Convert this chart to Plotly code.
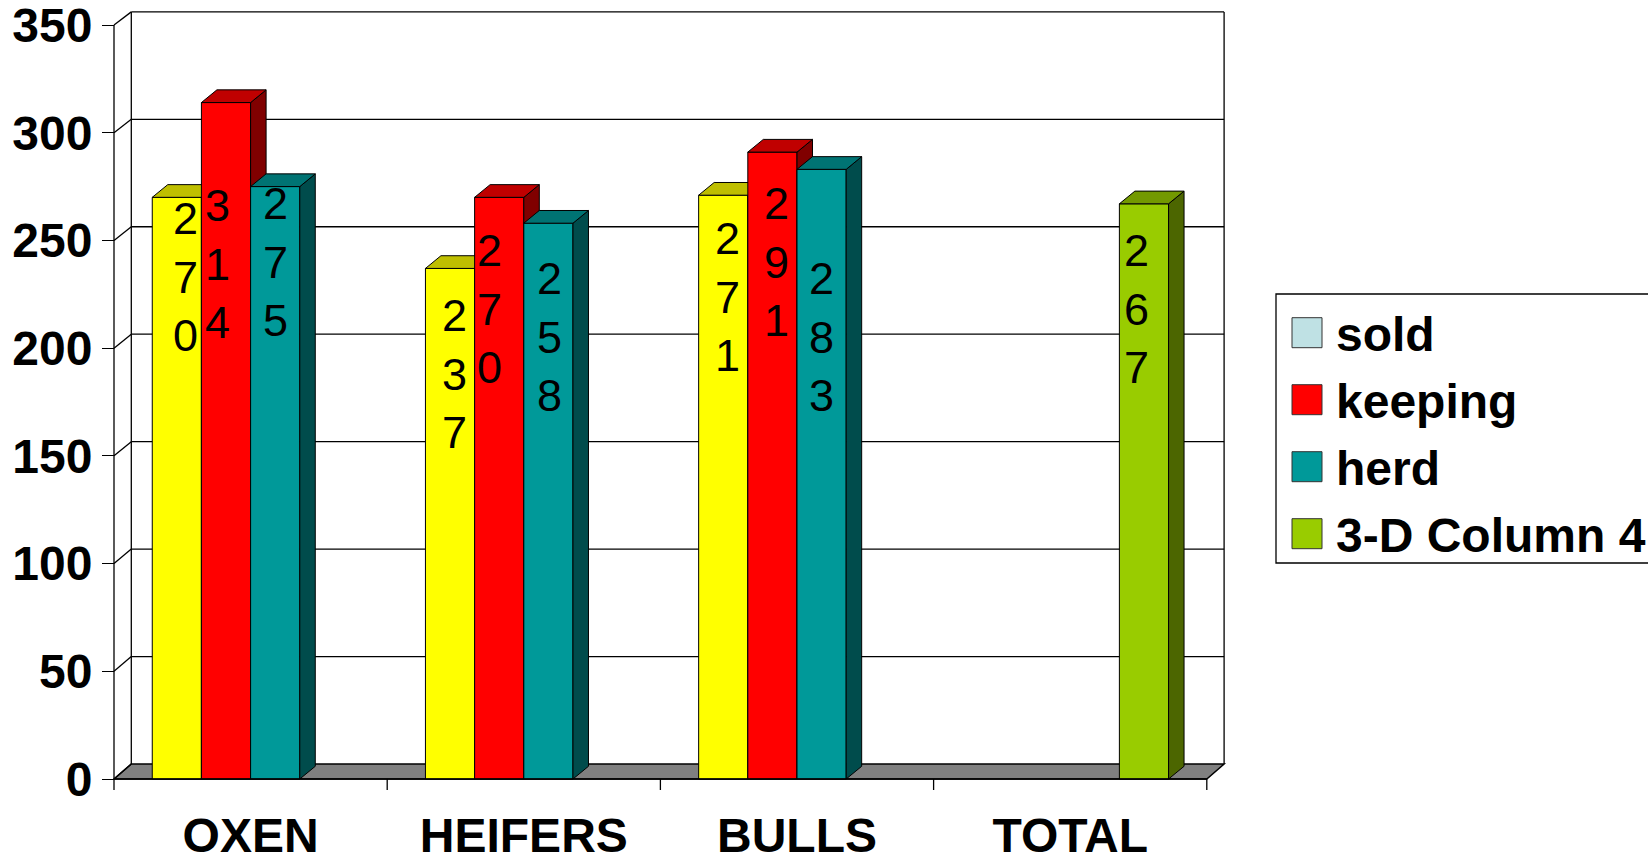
import plotly.graph_objects as go

# ---------------- data ----------------
categories = ["OXEN", "HEIFERS", "BULLS", "TOTAL"]
series_names = ["sold", "keeping", "herd", "3-D Column 4"]
sold = [270, 237, 271, None]
keeping = [314, 270, 291, None]
herd = [275, 258, 283, None]
column_4 = [None, None, None, 267]
y_tick_values = [0, 50, 100, 150, 200, 250, 300, 350]

series_values = [sold, keeping, herd, column_4]

# ---------------- styles ----------------
FONT = "Liberation Sans, Arial, sans-serif"
BIG = 48
FRONT_COLORS = ["#FFFF00", "#FF0000", "#009999", "#99CC00"]
TOP_COLORS = ["#BFBF00", "#C00000", "#007373", "#739900"]
SIDE_COLORS = ["#808000", "#800000", "#004C4C", "#4C6600"]
LEGEND_COLORS = ["#BFE1E4", "#FF0000", "#009999", "#99CC00"]
FLOOR_COLOR = "#808080"

# label placement (axis units for vertical centre, pixel nudge horizontally)
LABEL_CENTER = [
    [232.9, 187.9, 223.6, None],
    [238.9, 218.0, 239.8, None],
    [239.8, 205.0, 205.0, None],
    [None, None, None, 218.0],
]
LABEL_XSHIFT = [
    [9, 4, 4, 0],
    [-9, -10, 4, 0],
    [0, 1, 0, 0],
    [0, 0, 0, -7],
]

# ---------------- geometry ----------------
FIG_W, FIG_H = 1648, 855
PA_LEFT, PA_RIGHT, PA_TOP, PA_BOTTOM = 60, 1240, 6, 797   # plot-area box in px
PLOT_W = PA_RIGHT - PA_LEFT
PLOT_H = PA_BOTTOM - PA_TOP
AXIS_X_PX = 114          # front value axis
AXIS_Y_PX = 779          # front category axis (value 0)
PX_PER_CAT = 273.2
PX_PER_UNIT = 754 / 350

X_RANGE = [-0.5 - (AXIS_X_PX - PA_LEFT) / PX_PER_CAT,
           -0.5 + (PA_RIGHT - AXIS_X_PX) / PX_PER_CAT]
Y_RANGE = [-(PA_BOTTOM - AXIS_Y_PX) / PX_PER_UNIT,
           (AXIS_Y_PX - PA_TOP) / PX_PER_UNIT]

BAR_W = 0.18
GROUP_START = -0.36
DEPTH_DX = 15.5 / PX_PER_CAT
DEPTH_DY = 12.7 / PX_PER_UNIT
WALL_DX = 17.3 / PX_PER_CAT
WALL_DY0 = 15 / PX_PER_UNIT
WALL_SCALE = 0.9975
TICK_DOWN = 11 / PX_PER_UNIT

n_cat = len(categories)
x_first = -0.5
x_last = n_cat - 0.5


def back(v):
    return v * WALL_SCALE + WALL_DY0


def px_to_paper_x(px):
    return (px - PA_LEFT) / PLOT_W


def px_to_paper_y(py):
    return (PA_BOTTOM - py) / PLOT_H


fig = go.Figure()

# ---------------- bars (one overlaid subplot per series, for correct occlusion) ----------------
for k, vals in enumerate(series_values):
    xa = "x" if k == 0 else f"x{k + 1}"
    ya = "y" if k == 0 else f"y{k + 1}"
    offset = GROUP_START + BAR_W * k
    fig.add_trace(go.Bar(
        x=list(range(n_cat)), y=vals, name=series_names[k],
        offset=offset, width=BAR_W,
        marker=dict(color=FRONT_COLORS[k], line=dict(color="black", width=1)),
        xaxis=xa, yaxis=ya, showlegend=False, hoverinfo="skip",
    ))
    for i, v in enumerate(vals):
        if v is None:
            continue
        x0 = i + offset
        x1 = x0 + BAR_W
        # side face
        fig.add_trace(go.Scatter(
            x=[x1, x1 + DEPTH_DX, x1 + DEPTH_DX, x1, x1],
            y=[0, DEPTH_DY, v + DEPTH_DY, v, 0],
            mode="lines", fill="toself", fillcolor=SIDE_COLORS[k],
            line=dict(color="black", width=1),
            xaxis=xa, yaxis=ya, showlegend=False, hoverinfo="skip",
        ))
        # top face
        fig.add_trace(go.Scatter(
            x=[x0, x1, x1 + DEPTH_DX, x0 + DEPTH_DX, x0],
            y=[v, v, v + DEPTH_DY, v + DEPTH_DY, v],
            mode="lines", fill="toself", fillcolor=TOP_COLORS[k],
            line=dict(color="black", width=1),
            xaxis=xa, yaxis=ya, showlegend=False, hoverinfo="skip",
        ))

# ---------------- walls, floor, axes lines ----------------
shapes = []
LINE = dict(color="black", width=1.3)
# floor
shapes.append(dict(
    type="path", xref="x", yref="y", layer="below",
    path=(f"M{x_first},0 L{x_last},0 L{x_last + WALL_DX},{back(0)} "
          f"L{x_first + WALL_DX},{back(0)} Z"),
    fillcolor=FLOOR_COLOR, line=dict(color="black", width=1.5),
))
# back wall gridlines
for v in y_tick_values[1:]:
    shapes.append(dict(type="line", xref="x", yref="y", layer="below",
                       x0=x_first + WALL_DX, x1=x_last + WALL_DX, y0=back(v), y1=back(v),
                       line=LINE))
# back wall vertical edges
for xx in (x_first + WALL_DX, x_last + WALL_DX):
    shapes.append(dict(type="line", xref="x", yref="y", layer="below",
                       x0=xx, x1=xx, y0=back(0), y1=back(y_tick_values[-1]), line=LINE))
# left side wall diagonals
for v in y_tick_values:
    shapes.append(dict(type="line", xref="x", yref="y", layer="below",
                       x0=x_first, x1=x_first + WALL_DX, y0=v, y1=back(v), line=LINE))
# front value axis line
shapes.append(dict(type="line", xref="x", yref="y", layer="above",
                   x0=x_first, x1=x_first, y0=0, y1=y_tick_values[-1], line=LINE))
# front category axis line
shapes.append(dict(type="line", xref="x", yref="y", layer="above",
                   x0=x_first, x1=x_last, y0=0, y1=0, line=dict(color="black", width=1.5)))
# category boundary ticks
for i in range(n_cat + 1):
    xb = i - 0.5
    shapes.append(dict(type="line", xref="x", yref="y", layer="above",
                       x0=xb, x1=xb, y0=0, y1=-TICK_DOWN, line=LINE))

# ---------------- legend (drawn manually to match the large swatches) ----------------
LEG_LEFT, LEG_TOP, LEG_BOTTOM = 1276, 294, 563
LEG_ROW0, LEG_ROW_STEP = 332.7, 67.0
SW_LEFT, SW_SIZE, TXT_LEFT = 1292, 30, 1334
shapes.append(dict(type="rect", xref="paper", yref="paper", layer="above",
                   x0=px_to_paper_x(LEG_LEFT), x1=px_to_paper_x(FIG_W + 20),
                   y0=px_to_paper_y(LEG_BOTTOM), y1=px_to_paper_y(LEG_TOP),
                   fillcolor="white", line=dict(color="black", width=1.3)))
annotations = []
for k, name in enumerate(series_names):
    cy = LEG_ROW0 + LEG_ROW_STEP * k
    shapes.append(dict(type="rect", xref="paper", yref="paper", layer="above",
                       x0=px_to_paper_x(SW_LEFT), x1=px_to_paper_x(SW_LEFT + SW_SIZE),
                       y0=px_to_paper_y(cy + SW_SIZE / 2), y1=px_to_paper_y(cy - SW_SIZE / 2),
                       fillcolor=LEGEND_COLORS[k], line=dict(color="#333333", width=1)))
    annotations.append(dict(
        xref="paper", yref="paper", x=px_to_paper_x(TXT_LEFT), y=px_to_paper_y(cy + 2),
        xanchor="left", yanchor="middle", showarrow=False, text=name,
        font=dict(family=FONT, size=BIG, color="black", weight="bold"),
    ))

# ---------------- data labels ----------------
for k, vals in enumerate(series_values):
    offset = GROUP_START + BAR_W * k
    for i, v in enumerate(vals):
        if v is None:
            continue
        annotations.append(dict(
            xref="x", yref="y", x=i + offset + BAR_W / 2, y=LABEL_CENTER[k][i],
            xshift=LABEL_XSHIFT[k][i], xanchor="center", yanchor="middle",
            showarrow=False, text="<br>".join(str(v)),
            font=dict(family=FONT, size=45, color="black"),
        ))

layout = dict(
    width=FIG_W, height=FIG_H,
    margin=dict(l=PA_LEFT, r=FIG_W - PA_RIGHT, t=PA_TOP, b=FIG_H - PA_BOTTOM, pad=0,
                autoexpand=False),
    paper_bgcolor="white", plot_bgcolor="rgba(0,0,0,0)",
    showlegend=False,
    shapes=shapes, annotations=annotations,
    xaxis=dict(range=X_RANGE, anchor="free", position=px_to_paper_y(AXIS_Y_PX),
               tickvals=list(range(n_cat)), ticktext=categories, ticks="",
               ticklabelstandoff=24, ticklabeloverflow="allow", automargin=False,
               showgrid=False, zeroline=False, showline=False,
               tickfont=dict(family=FONT, size=BIG, color="black", weight="bold")),
    yaxis=dict(range=Y_RANGE, anchor="free", position=px_to_paper_x(AXIS_X_PX),
               tickvals=y_tick_values, ticks="outside", ticklen=12, tickwidth=1.3,
               ticklabeloverflow="allow", automargin=False,
               tickcolor="black", showgrid=False, zeroline=False, showline=False,
               tickfont=dict(family=FONT, size=BIG, color="black", weight="bold")),
    font=dict(family=FONT),
)
for k in range(1, len(series_values)):
    layout[f"xaxis{k + 1}"] = dict(range=X_RANGE, overlaying="x", anchor=f"y{k + 1}",
                                   visible=False, showgrid=False, zeroline=False)
    layout[f"yaxis{k + 1}"] = dict(range=Y_RANGE, overlaying="y", anchor=f"x{k + 1}",
                                   visible=False, showgrid=False, zeroline=False)
fig.update_layout(**layout)

fig.write_html("out.html", config={"displayModeBar": False},
               post_script="document.body.style.margin='0';")
